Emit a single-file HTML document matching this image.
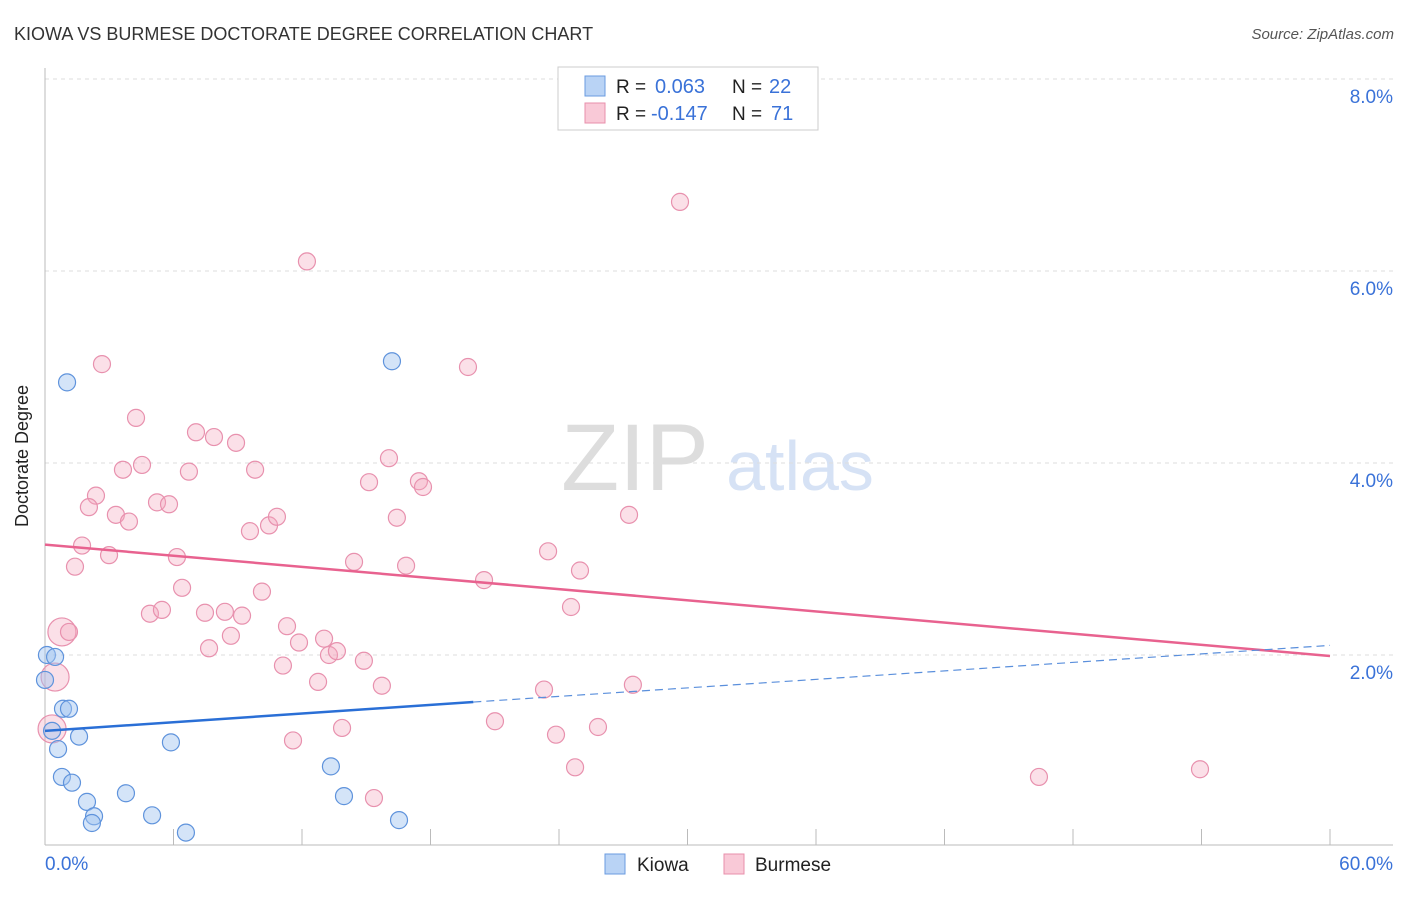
<!DOCTYPE html>
<html><head><meta charset="utf-8"><style>
body{margin:0;background:#fff;font-family:"Liberation Sans",sans-serif}
svg text{font-family:"Liberation Sans",sans-serif}
</style></head><body>
<svg id="c" width="1406" height="892" xmlns="http://www.w3.org/2000/svg">
<text x="14" y="40" font-size="18" fill="#333">KIOWA VS BURMESE DOCTORATE DEGREE CORRELATION CHART</text>
<text x="1394" y="39" font-size="15" fill="#555" font-style="italic" text-anchor="end">Source: ZipAtlas.com</text>
<text x="28" y="456" font-size="18" fill="#222" text-anchor="middle" transform="rotate(-90 28 456)">Doctorate Degree</text>
<text x="635" y="490" font-size="95" fill="#ddd" font-family="Liberation Serif,serif" text-anchor="middle">ZIP</text>
<text x="800" y="490" font-size="70" fill="#d6e2f5" text-anchor="middle">atlas</text>
<g id="grid"></g><g id="pts"></g><g id="lines"></g>
<g>
<rect x="558" y="67" width="260" height="63" fill="#fff" stroke="#ccc"/>
<rect x="585" y="76" width="20" height="20" fill="#b9d3f5" stroke="#6a9be0"/>
<rect x="585" y="103" width="20" height="20" fill="#f9c9d7" stroke="#e88fab"/>
<text x="616" y="93" font-size="19" fill="#222">R = </text><text x="655" y="93" font-size="20" fill="#3a72d8">0.063</text>
<text x="732" y="93" font-size="19" fill="#222">N = </text><text x="769" y="93" font-size="20" fill="#3a72d8">22</text>
<text x="616" y="120" font-size="19" fill="#222">R = </text><text x="651" y="120" font-size="20" fill="#3a72d8">-0.147</text>
<text x="732" y="120" font-size="19" fill="#222">N = </text><text x="771" y="120" font-size="20" fill="#3a72d8">71</text>
</g>
<g>
<rect x="605" y="854" width="20" height="20" fill="#b9d3f5" stroke="#6a9be0"/>
<text x="637" y="871" font-size="19" fill="#222">Kiowa</text>
<rect x="724" y="854" width="20" height="20" fill="#f9c9d7" stroke="#e88fab"/>
<text x="755" y="871" font-size="19" fill="#222">Burmese</text>
</g>
</svg>
<script>
const kiowaX=[1.03,16.20,0.09,0.47,0.0,0.84,1.12,0.33,1.59,0.61,5.88,0.79,1.26,1.96,3.78,2.29,2.19,5.0,6.58,13.35,13.96,16.53];
const kiowaY=[4.84,5.06,2.0,1.98,1.74,1.44,1.44,1.21,1.15,1.02,1.09,0.73,0.67,0.47,0.56,0.32,0.25,0.33,0.15,0.84,0.53,0.28];
const burX=[2.66,29.65,12.23,19.75,4.25,7.05,7.89,8.92,3.64,4.53,6.72,9.81,16.06,2.38,2.05,5.23,5.79,3.31,3.92,15.13,17.46,17.65,16.43,27.27,9.57,10.46,10.83,1.73,2.99,6.16,1.40,14.43,16.86,23.49,20.50,24.98,6.40,10.13,4.90,5.46,7.47,8.40,9.20,24.56,0.79,1.12,11.30,7.66,8.68,11.86,13.03,13.26,13.63,14.89,11.11,12.75,15.73,23.30,27.45,0.47,0.33,21.01,13.87,11.58,23.86,25.82,24.75,15.36,46.41,53.93,31.61];
const burY=[5.03,6.72,6.10,5.0,4.47,4.32,4.27,4.21,3.93,3.98,3.91,3.93,4.05,3.66,3.54,3.59,3.57,3.46,3.39,3.80,3.81,3.75,3.43,3.46,3.29,3.35,3.44,3.14,3.04,3.02,2.92,2.97,2.93,3.08,2.78,2.88,2.70,2.66,2.43,2.47,2.44,2.45,2.41,2.50,2.24,2.24,2.30,2.07,2.20,2.13,2.17,2.0,2.04,1.94,1.89,1.72,1.68,1.64,1.69,1.77,1.23,1.31,1.24,1.11,1.17,1.25,0.83,0.51,0.73,0.81,7.66];
const bigBur=[44,59,60];
const yTicks=[2,4,6,8];
const xTickLabels=["0.0%","60.0%"];
const kiowaTrend=[[0,1.21],[20,1.51],[60,2.10]];
const burTrend=[[0,3.15],[60,1.99]];
const NS="http://www.w3.org/2000/svg";
const sx=v=>45+v/60*1285, sy=v=>847-v*96;
function mk(t,a,p){const e=document.createElementNS(NS,t);for(const k in a)e.setAttribute(k,a[k]);p.appendChild(e);return e;}
const g=document.getElementById('grid');
yTicks.forEach(t=>{
 const l=mk('line',{x1:45,x2:1393,y1:sy(t),y2:sy(t),stroke:'#ddd','stroke-dasharray':'4,4'},g);
 
 
 const tx=mk('text',{x:1393,y:sy(t)+24,'font-size':19,fill:'#3a72d8','text-anchor':'end'},g);tx.textContent=t.toFixed(1)+'%';
 
 
});
const ya=mk('line',{x1:45,x2:45,y1:68,y2:845,stroke:'#bbb'},g);


const xa=mk('line',{x1:45,x2:1393,y1:845,y2:845,stroke:'#bbb'},g);


for(let i=0;i<=10;i++){const tk=mk('line',{x1:sx(i*6),x2:sx(i*6),y1:829,y2:845,stroke:'#bbb'},g);
 
 }
const xl0=mk('text',{x:45,y:870,'font-size':19,fill:'#3a72d8'},g);xl0.textContent=xTickLabels[0];


const xl1=mk('text',{x:1393,y:870,'font-size':19,fill:'#3a72d8','text-anchor':'end'},g);xl1.textContent=xTickLabels[1];


const p=document.getElementById('pts');
burX.forEach((x,i)=>{const c=mk('circle',{cx:sx(x),cy:sy(burY[i]),r:bigBur.includes(i)?14:8.5,fill:'rgba(244,165,190,0.35)',stroke:'#e891ae','stroke-width':1.2},p);
 
 });
kiowaX.forEach((x,i)=>{const c=mk('circle',{cx:sx(x),cy:sy(kiowaY[i]),r:8.5,fill:'rgba(160,195,240,0.45)',stroke:'#5f93dc','stroke-width':1.2},p);
 
 });
const L=document.getElementById('lines');
const bl=mk('line',{x1:sx(burTrend[0][0]),y1:sy(burTrend[0][1]),x2:sx(burTrend[1][0]),y2:sy(burTrend[1][1]),stroke:'#e8628f','stroke-width':2.5},L);


const kl=mk('line',{x1:sx(kiowaTrend[0][0]),y1:sy(kiowaTrend[0][1]),x2:sx(kiowaTrend[1][0]),y2:sy(kiowaTrend[1][1]),stroke:'#2a6fd6','stroke-width':2.5},L);


const kd=mk('line',{x1:sx(kiowaTrend[1][0]),y1:sy(kiowaTrend[1][1]),x2:sx(kiowaTrend[2][0]),y2:sy(kiowaTrend[2][1]),stroke:'#5a8fdc','stroke-width':1.2,'stroke-dasharray':'8,5'},L);


</script>
</body></html>
